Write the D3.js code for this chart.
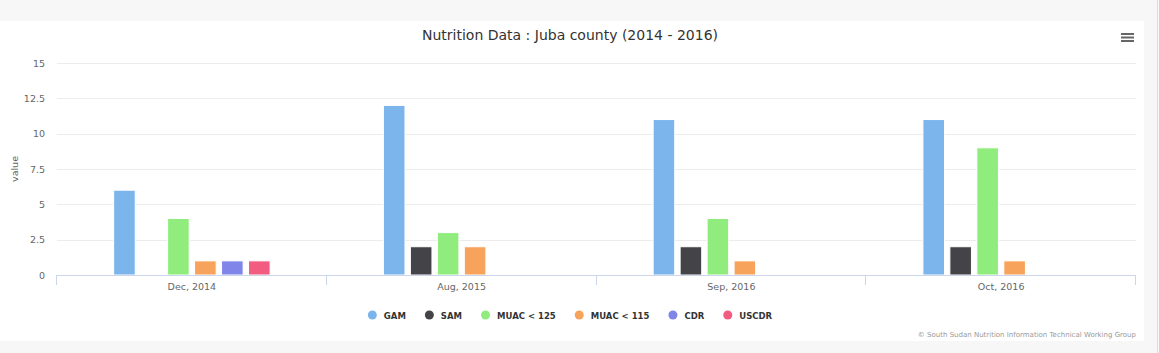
<!DOCTYPE html>
<meta charset="utf-8">
<script src="https://d3js.org/d3.v7.min.js"></script>
<style>
  html, body { margin: 0; padding: 0; background: #f7f7f7; overflow: hidden; }
  text { font-family: "DejaVu Sans", Verdana, sans-serif; }
</style>
<body>
<div id="canvas"></div>
<script>
  // data ---------------------------------------------------------------
  var categories = ["Dec, 2014", "Aug, 2015", "Sep, 2016", "Oct, 2016"];
  var seriesNames = ["GAM", "SAM", "MUAC < 125", "MUAC < 115", "CDR", "USCDR"];
  var colors = ["#7cb5ec", "#434348", "#90ed7d", "#f7a35c", "#8085e9", "#f15c80"];
  var GAM = [6, 12, 11, 11];
  var SAM = [null, 2, 2, 2];
  var MUAC125 = [4, 3, 4, 9];
  var MUAC115 = [1, 2, 1, 1];
  var CDR = [1, null, null, null];
  var USCDR = [1, null, null, null];
  var yTicks = [0, 2.5, 5, 7.5, 10, 12.5, 15];

  var seriesValues = [GAM, SAM, MUAC125, MUAC115, CDR, USCDR];

  var width = 1159, height = 353;
  var svg = d3.select('#canvas').append('svg')
    .attr('width', width).attr('height', height);

  // page backgrounds
  svg.append('rect').attr('x', 0).attr('y', 0).attr('width', width).attr('height', height).attr('fill', '#f7f7f7');
  svg.append('rect').attr('x', 0).attr('y', 21).attr('width', 1144).attr('height', 320).attr('fill', '#ffffff');
  svg.append('line').attr('x1', 1157.5).attr('x2', 1157.5).attr('y1', 0).attr('y2', height)
    .attr('stroke', '#dcdcdc');

  var margin = {top: 63, left: 57, right: 1136, bottom: 275};

  // scales ------------------------------------------------------------
  var x0 = d3.scaleBand().domain(categories).range([margin.left, margin.right]).padding(0);
  var groupW = x0.bandwidth() * 0.6;
  var x1 = d3.scaleBand().domain(seriesNames).range([0, groupW]).paddingInner(0.2).paddingOuter(0.1);
  var y = d3.scaleLinear().domain([0, 15]).range([margin.bottom, margin.top]);

  // grid lines
  svg.append('g').selectAll('line').data(yTicks).enter().append('line')
    .attr('x1', margin.left).attr('x2', margin.right)
    .attr('y1', function(d) { return Math.round(y(d)) + 0.5; })
    .attr('y2', function(d) { return Math.round(y(d)) + 0.5; })
    .attr('stroke', '#ececec');

  // y labels
  svg.append('g').selectAll('text').data(yTicks).enter().append('text')
    .attr('x', 45).attr('y', function(d) { return y(d) + 3.5; })
    .attr('text-anchor', 'end').attr('font-size', '9.5px').attr('fill', '#666')
    .text(function(d) { return d; });

  svg.append('text')
    .attr('transform', 'translate(18,' + ((margin.top + margin.bottom) / 2) + ') rotate(-90)')
    .attr('text-anchor', 'middle').attr('font-size', '9.5px').attr('fill', '#666')
    .text('value');

  // bars
  var groups = svg.append('g').selectAll('g').data(categories).enter().append('g')
    .attr('transform', function(d) { return 'translate(' + (x0(d) + x0.bandwidth() * 0.2) + ',0)'; });

  groups.selectAll('rect')
    .data(function(c, ci) {
      return seriesNames.map(function(s, si) { return {s: s, i: si, v: seriesValues[si][ci]}; })
        .filter(function(d) { return d.v != null; });
    })
    .enter().append('rect')
    .attr('x', function(d) { return x1(d.s); })
    .attr('y', function(d) { return y(d.v); })
    .attr('width', x1.bandwidth())
    .attr('height', function(d) { return y(0) - y(d.v); })
    .attr('fill', function(d) { return colors[d.i]; })
    .attr('stroke', '#fff').attr('stroke-width', 1);

  // x axis
  svg.append('line').attr('x1', margin.left).attr('x2', margin.right)
    .attr('y1', margin.bottom + 0.5).attr('y2', margin.bottom + 0.5).attr('stroke', '#ccd6eb');
  var bounds = categories.map(function(c) { return x0(c); }).concat([margin.right]);
  svg.append('g').selectAll('line').data(bounds).enter().append('line')
    .attr('x1', function(d) { return Math.round(d) - 0.5; })
    .attr('x2', function(d) { return Math.round(d) - 0.5; })
    .attr('y1', margin.bottom).attr('y2', margin.bottom + 10).attr('stroke', '#ccd6eb');
  svg.append('g').selectAll('text').data(categories).enter().append('text')
    .attr('x', function(d) { return x0(d) + x0.bandwidth() / 2; })
    .attr('y', 290).attr('text-anchor', 'middle')
    .attr('font-size', '9.5px').attr('fill', '#666')
    .text(function(d) { return d; });

  // title
  svg.append('text').attr('x', 570).attr('y', 40).attr('text-anchor', 'middle')
    .attr('font-size', '14px').attr('fill', '#333')
    .text('Nutrition Data : Juba county (2014 - 2016)');

  // menu icon
  svg.append('g').selectAll('rect').data([0, 1, 2]).enter().append('rect')
    .attr('x', 1121).attr('y', function(d) { return 33 + d * 3.5; })
    .attr('width', 13).attr('height', 2).attr('fill', '#666');

  // legend
  var legend = svg.append('g');
  var lx = 0;
  seriesNames.forEach(function(s, i) {
    var item = legend.append('g').attr('transform', 'translate(' + lx + ',0)');
    item.append('circle').attr('cx', 4.5).attr('cy', 0).attr('r', 4.5).attr('fill', colors[i]);
    var t = item.append('text').attr('x', 16).attr('y', 3.5)
      .attr('font-size', '8.5px').attr('font-weight', 'bold').attr('fill', '#333')
      .text(s);
    lx += 16 + t.node().getComputedTextLength() + (i < seriesNames.length - 1 ? 19 : 0);
  });
  legend.attr('transform', 'translate(' + (570 - lx / 2) + ',315)');

  // credits
  svg.append('text').attr('x', 1136).attr('y', 337).attr('text-anchor', 'end')
    .attr('font-size', '7px').attr('fill', '#999')
    .text('\u00a9 South Sudan Nutrition Information Technical Working Group');
</script>
</body>
